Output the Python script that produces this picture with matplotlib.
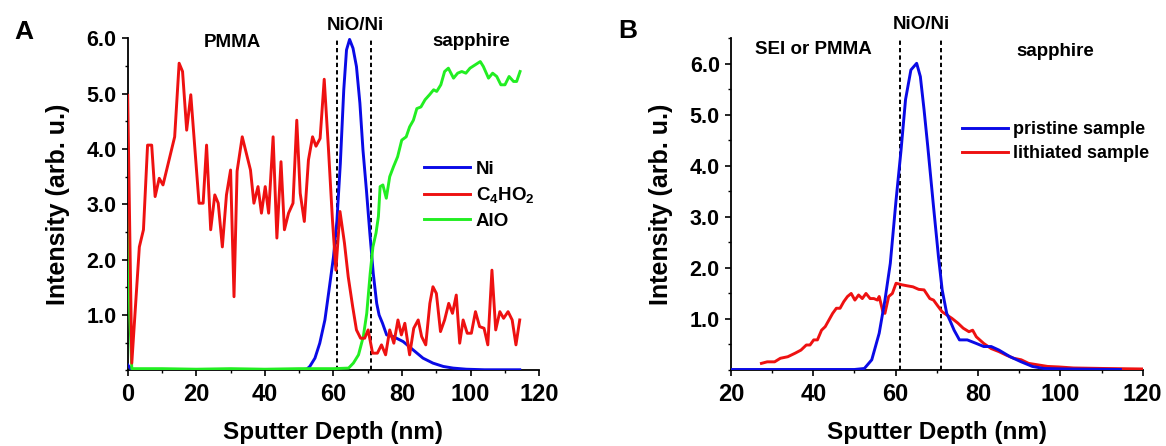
"""
ToF-SIMS depth profiles: (A) PMMA / NiO/Ni / sapphire stack, (B) Ni pristine vs lithiated.
"""

import numpy as np
import matplotlib
matplotlib.use("Agg")
import matplotlib.pyplot as plt
from matplotlib.ticker import MultipleLocator, FormatStrFormatter

plt.rcParams["font.family"] = ["Liberation Sans", "DejaVu Sans"]
plt.rcParams["font.weight"] = "bold"
plt.rcParams["mathtext.fontset"] = "custom"
plt.rcParams["mathtext.rm"] = "Liberation Sans:bold"
plt.rcParams["mathtext.it"] = "Liberation Sans:bold"
plt.rcParams["mathtext.bf"] = "Liberation Sans:bold"

# ---------------- panel A ----------------
ni_x = [0, 1, 2, 10, 30, 50, 52.2, 53.1, 54.6, 56.0, 57.5, 58.7, 60.0, 61.0, 62.0,
        63.0, 63.8, 64.7, 65.7, 66.7, 67.7, 68.6, 69.6, 70.6, 71.6, 72.6, 73.3,
        74.3, 75.5, 77.4, 80.3, 83.2, 86.1, 89.0, 92.0, 94.9, 98.7, 104, 114.3]
ni_y = [0.1, 0.02, 0.01, 0.01, 0.01, 0.01, 0.02, 0.07, 0.22, 0.49, 0.91, 1.45,
        2.05, 2.7, 3.74, 5.07, 5.79, 5.98, 5.82, 5.49, 4.83, 3.98, 3.26, 2.48,
        1.75, 1.21, 1.0, 0.85, 0.64, 0.61, 0.52, 0.37, 0.22, 0.13, 0.07, 0.04,
        0.02, 0.01, 0.01]

c4ho2_x = [0, 1.2, 3.4, 4.6, 5.8, 7.0, 8.0, 9.2, 10.3, 13.7, 15.0, 16.0, 17.2,
           18.4, 20.8, 22.0, 23.0, 24.2, 25.4, 26.4, 27.6, 28.8, 30.0, 31.0,
           31.9, 33.4, 35.8, 36.8, 38.0, 39.0, 40.1, 41.1, 42.4, 43.5, 44.7,
           45.7, 46.9, 48.2, 49.3, 50.3, 51.5, 52.7, 53.9, 54.9, 56.1, 57.3,
           58.5, 59.7, 60.7, 61.9, 63.2, 64.3, 65.6, 66.7, 67.9, 69.1, 70.1,
           71.4, 72.8, 74.0, 75.2, 76.4, 77.6, 78.8, 79.8, 80.8, 82.2, 83.4,
           84.7, 85.7, 86.9, 88.1, 89.0, 90.0, 91.2, 92.4, 93.6, 94.7, 95.8,
           96.8, 97.8, 99.0, 100.2, 101.4, 102.6, 103.9, 105.0, 106.2, 107.3,
           108.5, 109.6, 110.9, 112.1, 113.2, 114.3]
c4ho2_y = [4.97, 0.13, 2.23, 2.54, 4.07, 4.07, 3.14, 3.47, 3.35, 4.22, 5.55, 5.4,
           4.34, 4.98, 3.02, 3.02, 4.07, 2.54, 3.17, 3.02, 2.23, 3.17, 3.62,
           1.33, 3.6, 4.22, 3.62, 3.02, 3.32, 2.84, 3.32, 2.84, 4.22, 2.39,
           3.77, 2.54, 2.84, 3.02, 4.52, 3.2, 2.69, 3.8, 4.22, 4.05, 4.19, 5.26,
           4.04, 2.72, 1.81, 2.87, 2.3, 1.69, 1.15, 0.73, 0.58, 0.58, 0.73,
           0.31, 0.31, 0.46, 0.28, 0.73, 0.49, 0.91, 0.64, 0.85, 0.28, 0.76,
           0.91, 0.61, 0.46, 1.21, 1.51, 1.39, 0.7, 0.91, 1.21, 1.03, 1.36,
           0.49, 0.91, 0.67, 0.67, 1.06, 0.79, 0.76, 0.46, 1.81, 0.73, 1.06,
           0.94, 1.06, 0.91, 0.46, 0.91]

alo_x = [0, 0.6, 1.2, 10, 20, 30, 40, 50, 60, 64.4, 65.8, 67.3, 68.7, 69.7, 70.7,
         71.5, 72.4, 73.1, 73.6, 74.4, 75.4, 76.4, 77.5, 78.7, 79.9, 81.2, 82.2,
         83.3, 84.3, 85.5, 86.7, 88.0, 89.2, 90.1, 91.3, 92.4, 93.5, 95.0, 96.2,
         97.4, 98.6, 99.8, 101.3, 102.8, 103.7, 105.2, 106.4, 107.6, 108.8,
         110.0, 111.2, 112.5, 113.4, 114.4]
alo_y = [3.07, 1.0, 0.03, 0.03, 0.02, 0.03, 0.02, 0.03, 0.03, 0.04, 0.13, 0.28,
         0.61, 1.03, 1.75, 2.23, 2.48, 2.78, 3.32, 3.35, 3.11, 3.5, 3.68, 3.86,
         4.16, 4.22, 4.4, 4.52, 4.73, 4.76, 4.89, 4.98, 5.07, 5.04, 5.16, 5.4,
         5.46, 5.28, 5.37, 5.4, 5.37, 5.46, 5.52, 5.58, 5.49, 5.28, 5.37, 5.31,
         5.16, 5.16, 5.31, 5.22, 5.22, 5.4]

# ---------------- panel B ----------------
pristine_x = [20, 30, 40, 50, 52.4, 54.2, 56.0, 57.4, 58.7, 60.1, 61.3, 62.4, 63.7,
              65.1, 66.0, 66.9, 67.8, 69.2, 70.4, 71.3, 72.4, 73.3, 74.2, 75.5,
              77.4, 79.6, 81.4, 83.2, 85.1, 87.8, 90.5, 93.2, 96.0, 101.4, 114.6]
pristine_y = [0.01, 0.01, 0.01, 0.01, 0.03, 0.2, 0.72, 1.37, 2.09, 3.33, 4.3, 5.3,
              5.88, 6.01, 5.75, 5.1, 4.38, 3.2, 2.22, 1.57, 1.11, 0.95, 0.78,
              0.59, 0.59, 0.52, 0.46, 0.46, 0.39, 0.26, 0.16, 0.07, 0.03, 0.02,
              0.01]

lithiated_x = [27.4, 28.8, 30.6, 32.0, 33.8, 35.6, 37.0, 38.3, 39.2, 40.1, 41.0,
               42.0, 42.9, 43.8, 44.7, 45.6, 46.5, 47.4, 48.3, 49.2, 50.1, 51.0,
               51.9, 52.8, 53.8, 54.7, 55.6, 56.0, 56.9, 57.4, 58.3, 59.2, 60.1,
               61.5, 62.8, 64.2, 65.6, 66.9, 68.3, 69.2, 70.1, 71.3, 72.4, 73.7,
               75.1, 76.4, 77.8, 78.7, 79.6, 81.4, 83.2, 85.1, 86.9, 88.7, 90.5,
               92.3, 94.6, 96.9, 99.6, 103.2, 110.5, 120.0]
lithiated_y = [0.13, 0.16, 0.16, 0.23, 0.26, 0.33, 0.39, 0.49, 0.49, 0.59, 0.59,
               0.78, 0.85, 0.98, 1.11, 1.21, 1.21, 1.34, 1.44, 1.5, 1.37, 1.47,
               1.4, 1.5, 1.4, 1.4, 1.37, 1.44, 1.14, 1.11, 1.44, 1.5, 1.7, 1.67,
               1.65, 1.63, 1.58, 1.57, 1.4, 1.37, 1.27, 1.14, 1.08, 1.01, 0.92,
               0.82, 0.75, 0.78, 0.65, 0.52, 0.42, 0.36, 0.29, 0.23, 0.2, 0.13,
               0.1, 0.07, 0.06, 0.04, 0.03, 0.02]

interfaces = [61, 71]

BLUE = "#0a0ae6"
RED = "#ee1111"
GREEN = "#22ee22"
LW = 2.1


def style_axes(ax, xmin, xmax, ymax):
    ax.set_xlim(xmin, xmax)
    ax.set_ylim(0, ymax)
    for side in ("top", "right"):
        ax.spines[side].set_visible(False)
    for side in ("left", "bottom"):
        ax.spines[side].set_linewidth(1.3)
    ax.xaxis.set_major_locator(MultipleLocator(20))
    ax.xaxis.set_minor_locator(MultipleLocator(10))
    ax.set_yticks([1, 2, 3, 4, 5, 6])
    ax.yaxis.set_minor_locator(MultipleLocator(0.5))
    ax.yaxis.set_major_formatter(FormatStrFormatter("%.1f"))
    ax.tick_params(which="major", direction="out", length=4, width=1.2)
    ax.tick_params(which="minor", direction="out", length=2.5, width=1.0)
    ax.tick_params(axis="x", labelsize=17, pad=5)
    ax.tick_params(axis="y", labelsize=15.5, pad=4)
    ax.set_xlabel("Sputter Depth (nm)", fontsize=17.5, fontweight="bold", labelpad=11)
    ax.set_ylabel("Intensity (arb. u.)", fontsize=18, fontweight="bold", labelpad=12)
    for xv in interfaces:
        ax.axvline(xv, color="black", lw=1.4, ls=(0, (2.2, 1.6)), zorder=1)


fig = plt.figure(figsize=(11.66, 4.46), dpi=100)
ax_a = fig.add_axes([0.1095, 0.1697, 0.3530, 0.7444])
ax_b = fig.add_axes([0.6269, 0.1704, 0.3531, 0.7437])

# --- A ---
style_axes(ax_a, 0, 120, 6.0)
ax_a.plot(ni_x, ni_y, color=BLUE, lw=LW, label="Ni", zorder=3)
ax_a.plot(c4ho2_x, c4ho2_y, color=RED, lw=LW, label=r"C$_4$HO$_2$", zorder=4)
ax_a.plot(alo_x, alo_y, color=GREEN, lw=LW, label="AlO", zorder=3)
ax_a.legend(loc="upper left", bbox_to_anchor=(86.4, 3.79), bbox_transform=ax_a.transData,
            frameon=False, fontsize=13.5, handlelength=2.45, handletextpad=0.3,
            labelspacing=0.4, borderpad=0, borderaxespad=0)
txt = dict(fontsize=13.5, fontweight="bold", ha="center", va="center", clip_on=False)
ax_a.text(30.4, 5.93, "PMMA", **txt)
ax_a.text(100.2, 5.95, "sapphire", **txt)
ax_a.text(66.4, 6.23, "NiO/Ni", **txt)

# --- B ---
style_axes(ax_b, 20, 120, 6.5)
ax_b.plot(pristine_x, pristine_y, color=BLUE, lw=LW, label="pristine sample", zorder=4)
ax_b.plot(lithiated_x, lithiated_y, color=RED, lw=LW, label="lithiated sample", zorder=3)
ax_b.legend(loc="upper left", bbox_to_anchor=(76.0, 4.88), bbox_transform=ax_b.transData,
            frameon=False, fontsize=13, handlelength=2.55, handletextpad=0.3,
            labelspacing=0.38, borderpad=0, borderaxespad=0)
ax_b.text(39.9, 6.29, "SEI or PMMA", **txt)
ax_b.text(98.7, 6.25, "sapphire", **txt)
ax_b.text(66.2, 6.78, "NiO/Ni", **txt)

fig.text(24 / 1166, 1 - 32 / 446, "A", fontsize=19, fontweight="bold", ha="center", va="center")
fig.text(628 / 1166, 1 - 31 / 446, "B", fontsize=19, fontweight="bold", ha="center", va="center")

fig.savefig("out.png", dpi=100)
